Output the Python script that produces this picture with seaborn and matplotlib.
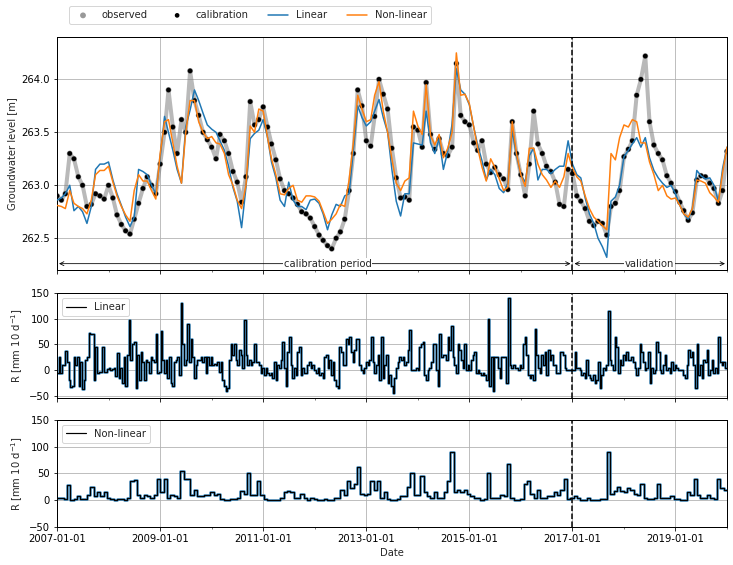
import seaborn as sns
import matplotlib.pyplot as plt
import matplotlib.dates as mdates
from matplotlib.ticker import MultipleLocator
import numpy as np
import pandas as pd

# heads: monthly readings, first value = 2007-01
start = "2007-01-01"

observed = [262.9, 262.86, 262.92, 263.3, 263.25, 263.08, 263.0, 262.8, 262.82, 262.92, 262.9, 262.87,
            263.0, 262.88, 262.72, 262.63, 262.57, 262.54, 262.68, 262.83, 262.97, 263.08, 263.0, 262.92,
            263.2, 263.5, 263.9, 263.55, 263.3, 263.62, 263.5, 264.08, 263.8, 263.66, 263.5, 263.43,
            263.36, 263.25, 263.48, 263.42, 263.3, 263.13, 263.03, 262.84, 263.08, 263.79, 263.57, 263.62,
            263.74, 263.55, 263.39, 263.24, 263.06, 262.95, 262.92, 262.88, 262.82, 262.75, 262.73, 262.69,
            262.61, 262.53, 262.48, 262.43, 262.4, 262.5, 262.56, 262.68, 262.95, 263.3, 263.9, 263.75,
            263.42, 263.37, 263.65, 264.0, 263.86, 263.72, 263.35, 263.07, 262.88, 262.89, 262.86, 263.55,
            263.52, 263.36, 263.97, 263.48, 263.34, 263.44, 263.3, 263.28, 263.36, 264.15, 263.66, 263.6,
            263.57, 263.4, 263.33, 263.42, 263.2, 263.12, 263.17, 263.1, 263.06, 262.96, 263.6, 263.3,
            263.1, 262.9, 263.2, 263.7, 263.39, 263.3, 263.18, 263.13, 263.03, 262.82, 262.8, 263.15,
            263.11, 262.9, 262.85, 262.78, 262.66, 262.62, 262.66, 262.64, 262.53, 262.8, 262.83, 262.95,
            263.27, 263.34, 263.42, 263.85, 264.0, 264.22, 263.6, 263.38, 263.3, 263.24, 263.09, 263.02,
            262.94, 262.84, 262.76, 262.67, 262.74, 263.05, 263.09, 263.08, 263.02, 262.97, 262.83, 262.95,
            263.32]

sim_linear = [262.86, 262.88, 262.92, 263.0, 262.76, 262.8, 262.75, 262.64, 262.8, 263.15, 263.2, 263.2,
              263.22, 263.05, 262.92, 262.81, 262.7, 262.61, 262.7, 263.15, 263.13, 263.1, 263.0, 262.92,
              263.26, 263.65, 263.5, 263.33, 263.15, 263.02, 263.55, 263.71, 263.9, 263.8, 263.68, 263.57,
              263.53, 263.5, 263.42, 263.33, 263.18, 262.98, 262.85, 262.6, 262.98, 263.44, 263.49, 263.52,
              263.62, 263.45, 263.22, 263.07, 262.86, 262.8, 263.03, 262.86, 262.8, 262.8, 262.77, 262.86,
              262.87, 262.83, 262.73, 262.58, 262.72, 262.82, 262.8, 262.9, 262.92, 263.33, 263.75, 263.64,
              263.56, 263.6, 263.7, 263.81, 263.64, 263.5, 263.15, 262.85, 262.71, 262.92, 262.92, 263.4,
              263.39, 263.38, 263.7, 263.4, 263.3, 263.44, 263.15, 263.32, 263.58, 264.1, 263.9, 263.86,
              263.76, 263.55, 263.38, 263.23, 263.05, 263.15, 263.1, 262.97, 262.93, 263.02, 263.52, 263.28,
              263.1, 263.03, 263.28, 263.35, 263.05, 263.15, 263.15, 263.11, 263.15, 263.18, 263.18, 263.42,
              263.2, 263.1, 263.07, 262.88, 262.73, 262.64, 262.5, 262.42, 262.32, 262.85, 262.89, 263.0,
              263.27, 263.33, 263.39, 263.45, 263.36, 263.45, 263.26, 263.14, 263.07, 263.02, 262.98, 263.0,
              262.92, 262.81, 262.73, 262.68, 262.78, 263.14, 263.09, 263.06, 263.07, 263.0, 262.85, 263.16,
              263.36]

sim_nonlinear = [262.81, 262.8, 262.78, 262.95, 262.83, 262.8, 262.78, 262.73, 262.86, 263.1, 263.14, 263.14,
                 263.18, 263.03, 262.9, 262.8, 262.72, 262.66, 262.95, 263.1, 263.04, 263.04, 262.95, 262.87,
                 263.3, 263.6, 263.62, 263.4, 263.18, 263.02, 263.5, 263.8, 263.8, 263.6, 263.5, 263.44,
                 263.46, 263.4, 263.39, 263.3, 263.1, 263.0, 262.86, 262.78, 263.0, 263.56, 263.5, 263.72,
                 263.7, 263.45, 263.25, 263.1, 262.92, 262.91, 262.97, 263.0, 262.86, 262.84, 262.9, 262.9,
                 262.89, 262.85, 262.75, 262.64, 262.68, 262.73, 262.82, 262.8, 263.05, 263.4, 263.85, 263.72,
                 263.6, 263.62, 263.85, 263.98, 263.7, 263.5, 263.25, 263.02, 262.95, 263.04, 263.07, 263.7,
                 263.56, 263.48, 263.95, 263.47, 263.38, 263.48, 263.26, 263.35, 263.5, 264.25, 263.85, 263.86,
                 263.77, 263.55, 263.35, 263.17, 263.04, 263.25, 263.17, 263.06, 262.95, 262.98, 263.6, 263.3,
                 263.1, 262.99, 263.35, 263.35, 263.2, 263.1, 263.05, 262.98, 263.04, 262.98, 263.08, 263.3,
                 263.16, 263.08, 263.04, 262.9, 262.78, 262.7, 262.66, 262.62, 262.58, 263.3, 263.24, 263.45,
                 263.57, 263.55, 263.62, 263.6, 263.4, 263.4, 263.22, 263.1, 262.95, 263.0, 262.9, 262.87,
                 262.88, 262.81, 262.73, 262.7, 262.78, 263.05, 263.04, 263.02, 262.93, 262.89, 262.84, 263.12,
                 263.36]

# recharge, linear model: readings about every 12 days
recharge_linear = [
    -5, 25, -5, 10, 10, 38, 15, -20, -33, -30, 25, 10, 25, -30, 15, -37, -20, 20, 25, 72,
    70, 70, -20, 45, -5, -3, -3, 45, -3, -3, 2, 5, 0, 3, 5, -12, 33, -15, 5, -25,
    25, -30, 30, 98, 20, 50, 55, -35, 30, -20, 35, 15, -20, 20, 15, -5, 25, 20, 15, 70,
    -5, -3, 76, 20, -5, 20, -15, 25, -25, -30, 15, 20, 25, -10, 130, 50, 10, 20, 90, 15,
    60, 25, -15, 10, 20, 20, 25, 15, 25, -5, 25, 10, 25, 10, 12, 10, 15, -3, 15, -20,
    -30, -40, -35, 20, 50, 30, 50, 20, 10, 40, 30, 5, 97, 30, 10, 20, 10, 15, 50, 15,
    15, 10, -5, 5, -10, 5, -5, -10, -5, -15, 15, -20, 10, 5, 20, 55, 5, -30, 35, 65,
    10, -15, 5, -10, 35, 45, -10, 5, -5, -5, 10, 15, 5, 10, 0, -5, 5, -10, -5, -15,
    25, 30, 5, 20, -10, 15, -20, -30, -35, 45, 35, 10, 10, 60, 50, 65, 35, 15, 40, 60,
    60,
    10, 0, -5, 5, 15, 10, 20, 65, 15, -5, 10, 30, -20, 65, -15, 10, 30, -25, -10, -30,
    -45, -15, 5, 15, 25, 20, 25, 10, 15, 40, 78, 0, 0, 0, 5, 0, 45, 50, 55, -10,
    -20, 0, 5, 15, 50, 50, 0, -30, 70, 25, 30, 30, 20, 65, 40, 85, 25, 10, -5, 50,
    40, 20, 5, 50, 0, 10, 0, 20, 30, 35, -5, 0, -5, -10, -5, -10, -20, 100, -30, 25,
    -40, 25, 25, 5, -15, 25, 25, 25, -25, 140, 10, 5, 10, 5, 5, 0, 10, 5, 50, 65,
    30, -10, -15, -10, -20, 80, 30, 5, -5, 30, 10, 35, -10, 40, 20, 30, 10, 10, -5, -5,
    35, 35, 30, 5, 0, 0, 0, 0, 0, 35, 5, 5, 0, -10, -5, -15, 20, -10, -15, -20,
    -10, -25, -20, 15, -35, -10, 5, 0, 10, 116, 20, 10, 0, 65, 45, -5, 20, 10, 30, 20,
    35, 20, 20, 25, 15, 5, -10, 5, 50, 35, 15, 0, 5, 35, -25, 5, -5, 0, 55, 35,
    0, -5, 10, 30, 0, 5, -5, 15, 0, 10, 5, 0, 0, 0, -10, -15, 10, 40, 25, 35,
    10, -35, 50, -10, 10, -15, 20, 15, 40, -10, 0, 20, -5, 5, -5, 65, 15, 10, 15, 5]

# recharge, non-linear model: readings about every 24 days
recharge_nonlinear = [
    5, 4, 3, 28, 0, 2, 8, 3, 3, 10, 25, 8, 15, 8, 15, 5, 2, 1, 3, 3,
    0, 5, 35, 38, 10, 5, 10, 8, 5, 10, 40, 15, 40, 5, 10, 8, 5, 55, 40, 40,
    10, 20, 8, 8, 10, 10, 15, 10, 12, 3, 1, 0, 3, 2, 5, 18, 12, 50, 10, 10,
    35, 10, 3, 1, 0, 1, 1, 5, 15, 18, 15, 5, 5, 12, 5, 1, 5, 2, 1, 1,
    2, 0, 1, 5, 5, 20, 10, 35, 22, 30, 62,
    12, 10, 12, 35, 20, 35, 5, 15, 3, 1, 1, 3, 8, 8, 25, 50, 10, 10, 45, 15,
    8, 5, 15, 5, 5, 15, 35, 90, 15, 20, 15, 20, 12, 8, 5, 4, 1, 2, 50, 5,
    5, 4, 10, 8, 68, 5, 1, 1, 3, 30, 35, 12, 5, 20, 5, 5, 8, 8, 15, 10,
    20, 40, 2, 5, 8, 5, 1, 1, 5, 1, 0, 1, 2, 2, 90, 12, 18, 25, 18, 15,
    22, 20, 12, 10, 30, 5, 3, 2, 5, 30, 4, 5, 5, 8, 2, 2, 1, 1, 15, 10,
    40, 10, 5, 5, 10, 5, 2, 40, 22, 20]

t_split = pd.Timestamp("2017-01-01")
t_end = pd.Timestamp("2020-01-01")

dates = pd.date_range(start, periods=len(observed), freq="MS")
heads = pd.DataFrame({"date": dates, "observed": observed,
                      "Linear": sim_linear, "Non-linear": sim_nonlinear})
# step plots need the closing edge, repeat the last value at the end
rech_lin = pd.DataFrame({"date": pd.date_range(start, periods=len(recharge_linear) + 1, freq="284h"),
                         "R": recharge_linear + recharge_linear[-1:]})
rech_nl = pd.DataFrame({"date": pd.date_range(start, periods=len(recharge_nonlinear) + 1, freq="567h"),
                        "R": recharge_nonlinear + recharge_nonlinear[-1:]})

sns.set_style("ticks")
plt.rcParams['font.family'] = ['DejaVu Sans']
plt.rcParams['font.size'] = 10

fig = plt.figure(figsize=(733 / 72, 565 / 72), dpi=72)
ax1 = fig.add_axes([0.0778, 0.5221, 0.914, 0.4124])
ax2 = fig.add_axes([0.0778, 0.2956, 0.914, 0.1858], sharex=ax1)
ax3 = fig.add_axes([0.0778, 0.0673, 0.914, 0.1894], sharex=ax1)

# heads
ax1.plot(heads["date"], heads["observed"], color="grey", lw=4, alpha=0.55, zorder=1)
sns.scatterplot(data=heads, x="date", y="observed", ax=ax1, color="grey", s=34,
                alpha=0.8, edgecolor="none", label="observed", zorder=2)
sns.scatterplot(data=heads, x="date", y="observed", ax=ax1, color="k", s=22,
                edgecolor="none", label="calibration", zorder=3)
sns.lineplot(data=heads, x="date", y="Linear", ax=ax1, color="C0", lw=1.5,
             label="Linear", zorder=4)
sns.lineplot(data=heads, x="date", y="Non-linear", ax=ax1, color="C1", lw=1.5,
             label="Non-linear", zorder=5)
ax1.set_ylim(262.2, 264.4)
ax1.yaxis.set_major_locator(MultipleLocator(0.5))
ax1.set_ylabel("Groundwater level [m]")

y_arrow = 262.26
ax1.annotate("", xy=(pd.Timestamp("2007-01-01"), y_arrow), xytext=(t_split, y_arrow),
             arrowprops=dict(arrowstyle="<->", color="k", lw=0.8))
ax1.annotate("", xy=(t_split, y_arrow), xytext=(t_end, y_arrow),
             arrowprops=dict(arrowstyle="<->", color="k", lw=0.8))
ax1.text(pd.Timestamp("2012-04-01"), y_arrow, "calibration period", ha="center", va="center",
         bbox=dict(facecolor="white", edgecolor="none", pad=1))
ax1.text(pd.Timestamp("2018-07-01"), y_arrow, "validation", ha="center", va="center",
         bbox=dict(facecolor="white", edgecolor="none", pad=1))

# recharge
for ax, df, name, lim in ((ax2, rech_lin, "Linear", (-54, 150)),
                          (ax3, rech_nl, "Non-linear", (-50, 150))):
    sns.lineplot(data=df, x="date", y="R", ax=ax, color="C0", lw=2.5, alpha=0.85,
                 drawstyle="steps-post")
    sns.lineplot(data=df, x="date", y="R", ax=ax, color="k", lw=1.2,
                 drawstyle="steps-post", label=name)
    ax.set_ylim(*lim)
    ax.set_ylabel("R [mm 10 d$^{-1}$]")
    ax.yaxis.set_major_locator(MultipleLocator(50))
    ax.legend(loc="upper left")

for ax in (ax1, ax2, ax3):
    ax.axvline(t_split, color="k", ls="--", lw=1.5, zorder=6)
    ax.grid(True, color="#b0b0b0", lw=0.8)
    ax.set_xlabel("")
    for s in ax.spines.values():
        s.set_color("k")
        s.set_linewidth(1)
    ax.tick_params(colors="k")

ax1.get_legend().remove()
ax1.set_xlim(pd.Timestamp("2007-01-01"), t_end)
ax1.set_xticks([pd.Timestamp(f"{y}-01-01") for y in range(2007, 2020, 2)])
ax1.xaxis.set_minor_locator(mdates.YearLocator(1))
ax1.xaxis.set_major_formatter(mdates.DateFormatter("%Y-%m-%d"))
plt.setp(ax1.get_xticklabels(), visible=False)
plt.setp(ax2.get_xticklabels(), visible=False)
ax3.set_xlabel("Date")

h, l = ax1.get_legend_handles_labels()
fig.legend(h[:4], l[:4], loc="upper left", bbox_to_anchor=(69 / 733, 1 - 6 / 565), ncol=4,
           frameon=True, borderaxespad=0)

fig.savefig("out.png", dpi=72)
